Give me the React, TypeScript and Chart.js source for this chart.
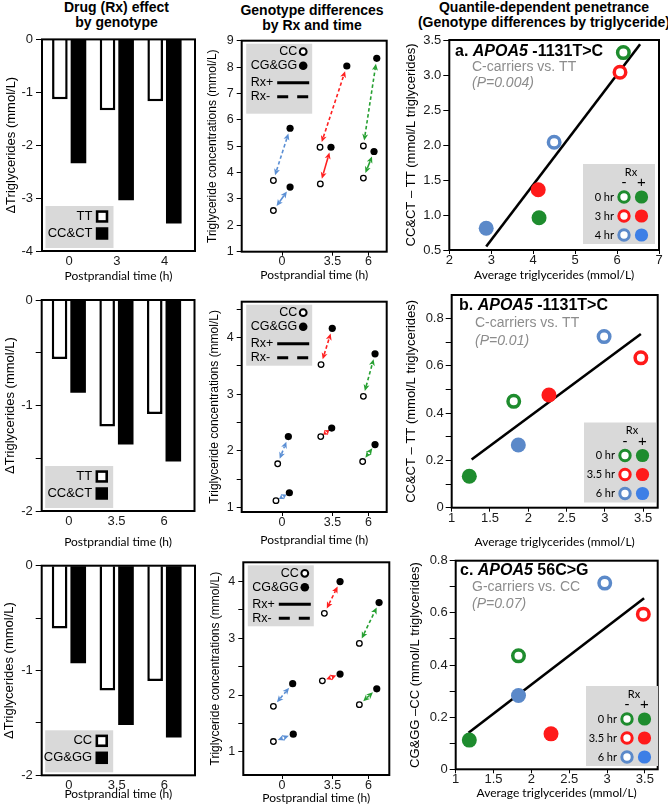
import React, { useEffect, useRef } from 'react';
import { Chart, registerables } from 'chart.js';

Chart.register(...registerables);

const PAGE_W = 668;
const PAGE_H = 807;
const HELV = '"Liberation Sans", Arial, Helvetica, sans-serif';
const SOFT = 'Lato, "Open Sans", "DejaVu Sans", sans-serif';
Chart.defaults.font.family = HELV;

const LEGEND_BG = '#d9d9d9';
const PEN_COLORS = ['#1e8c2e', '#ff1a1a', '#5b89c9'];
const PEN_LEGEND_FILLED = ['#1e8c2e', '#ff1a1a', '#3d7fe6'];
const ARROW_COLORS = ['#5b8fd4', '#ff2020', '#27a032'];

// ---------- headers ----------
const headerDrug = ['Drug (Rx) effect', 'by genotype'];
const headerGeno = ['Genotype differences', 'by Rx and time'];
const headerPen = ['Quantile-dependent penetrance', '(Genotype differences by triglyceride)'];

// ---------- column 1: drug effect bars ----------
const barPositions = [0, 1, 2];
const drugTimeLabelsA = ['0', '3', '4'];
const drugTimeLabelsBC = ['0', '3.5', '6'];
const drugA_TT = [-1.13, -1.34, -1.17];
const drugA_CCCT = [-2.34, -3.04, -3.48];
const drugB_TT = [-0.56, -1.2, -1.08];
const drugB_CCCT = [-0.88, -1.37, -1.53];
const drugC_CC = [-0.6, -1.19, -1.1];
const drugC_CGGG = [-0.93, -1.52, -1.64];
const drugLegendA = ['TT', 'CC&CT'];
const drugLegendB = ['TT', 'CC&CT'];
const drugLegendC = ['CC', 'CG&GG'];
const drugYTicksA = [0, -1, -2, -3, -4];
const drugYLabelsA = [0, -1, -2, -3, -4];
const drugYTicksBC = [0, -0.5, -1, -1.5, -2];
const drugYLabelsBC = [0, -1, -2];

// ---------- column 2: genotype differences ----------
const genoTimeTicks = [0, 3.5, 6];
const genoLegend = ['CC', 'CG&GG'];
const rxLegend = ['Rx+', 'Rx-'];
const genoA_ccMinusX = [-0.6, 2.64, 5.65];
const genoA_ccMinusY = [3.7, 4.96, 5.01];
const genoA_cgMinusX = [0.56, 4.5, 6.58];
const genoA_cgMinusY = [5.68, 8.04, 8.33];
const genoA_ccPlusX = [-0.6, 2.66, 5.65];
const genoA_ccPlusY = [2.56, 3.57, 3.79];
const genoA_cgPlusX = [0.56, 3.4, 6.39];
const genoA_cgPlusY = [3.45, 4.96, 4.8];

const genoB_ccMinusX = [-0.3, 2.71, 5.65];
const genoB_ccMinusY = [1.77, 3.52, 2.96];
const genoB_cgMinusX = [0.44, 3.49, 6.46];
const genoB_cgMinusY = [2.25, 4.16, 3.71];
const genoB_ccPlusX = [-0.42, 2.69, 5.6];
const genoB_ccPlusY = [1.12, 2.25, 1.81];
const genoB_cgPlusX = [0.51, 3.45, 6.46];
const genoB_cgPlusY = [1.26, 2.4, 2.11];

const genoC_ccMinusX = [-0.6, 2.94, 5.37];
const genoC_ccMinusY = [1.8, 3.44, 2.91];
const genoC_cgMinusX = [0.74, 4.03, 6.74];
const genoC_cgMinusY = [2.2, 4.0, 3.63];
const genoC_ccPlusX = [-0.6, 2.8, 5.37];
const genoC_ccPlusY = [1.18, 2.25, 1.83];
const genoC_cgPlusX = [0.78, 4.03, 6.58];
const genoC_cgPlusY = [1.31, 2.37, 2.11];

const genoYTicksA = [1, 2, 3, 4, 5, 6, 7, 8, 9];
const genoYLabelsA = [1, 2, 3, 4, 5, 6, 7, 8, 9];
const genoYTicksB = [1, 1.5, 2, 2.5, 3, 3.5, 4, 4.5];
const genoYTicksC = [1, 1.5, 2, 2.5, 3, 3.5, 4];
const genoYLabelsBC = [1, 2, 3, 4];

// ---------- column 3: quantile-dependent penetrance ----------
const penTimesA = ['0 hr', '3 hr', '4 hr'];
const penTimesBC = ['0 hr', '3.5 hr', '6 hr'];
const penA_minusX = [6.15, 6.07, 4.5];
const penA_minusY = [3.32, 3.04, 2.04];
const penA_plusX = [4.14, 4.12, 2.88];
const penA_plusY = [0.96, 1.36, 0.81];
const penA_fitX = [2.88, 6.55];
const penA_fitY = [0.55, 3.44];

const penB_minusX = [1.81, 3.47, 2.99];
const penB_minusY = [0.45, 0.634, 0.724];
const penB_plusX = [1.23, 2.27, 1.87];
const penB_plusY = [0.133, 0.477, 0.265];
const penB_fitX = [1.26, 3.47];
const penB_fitY = [0.204, 0.735];

const penC_minusX = [1.83, 3.48, 2.97];
const penC_minusY = [0.435, 0.595, 0.714];
const penC_plusX = [1.18, 2.26, 1.83];
const penC_plusY = [0.112, 0.136, 0.283];
const penC_fitX = [1.17, 3.49];
const penC_fitY = [0.14, 0.656];

const penXTicksA = [2, 3, 4, 5, 6, 7];
const penYTicksA = [0.5, 1, 1.5, 2, 2.5, 3, 3.5];
const penXTicksBC = [1, 1.5, 2, 2.5, 3, 3.5];
const penYTicksBC = [0, 0.1, 0.2, 0.3, 0.4, 0.5, 0.6, 0.7, 0.8];
const penYLabelsBC = [0, 0.2, 0.4, 0.6, 0.8];

const penTitleA = ['a. ', 'APOA5', ' -1131T>C'];
const penTitleB = ['b. ', 'APOA5', ' -1131T>C'];
const penTitleC = ['c. ', 'APOA5', ' 56C>G'];
const penSubA = ['C-carriers vs. TT', '(P=0.004)'];
const penSubB = ['C-carriers vs. TT', '(P=0.01)'];
const penSubC = ['G-carriers vs. CC', '(P=0.07)'];

// ---------- geometry ----------
type Geo = { L: number; T: number; R: number; B: number; yTitleX: number; xTitleY: number };
const geoDrugA: Geo = { L: 42, T: 39.4, R: 195, B: 251, yTitleX: 11.7, xTitleY: 276 };
const geoDrugB: Geo = { L: 41.7, T: 300, R: 194.5, B: 511, yTitleX: 10, xTitleY: 541.7 };
const geoDrugC: Geo = { L: 41.7, T: 565.7, R: 195, B: 775.3, yTitleX: 9, xTitleY: 794.3 };
const geoGenoA: Geo = { L: 241.7, T: 40.7, R: 386.7, B: 251.7, yTitleX: 213, xTitleY: 275 };
const geoGenoB: Geo = { L: 241.7, T: 301.7, R: 386.7, B: 512, yTitleX: 215, xTitleY: 540 };
const geoGenoC: Geo = { L: 243.3, T: 562.3, R: 389.3, B: 775, yTitleX: 216, xTitleY: 798 };
const geoPenA: Geo = { L: 449.3, T: 40, R: 659, B: 250, yTitleX: 411.7, xTitleY: 275 };
const geoPenB: Geo = { L: 451.7, T: 295, R: 657.7, B: 507.7, yTitleX: 411.7, xTitleY: 541.7 };
const geoPenC: Geo = { L: 455.7, T: 560.7, R: 657.7, B: 769.3, yTitleX: 415, xTitleY: 793.3 };

function layoutFor(g: Geo, yTitleSize: number, xTitleSize: number) {
  const yLeft = g.yTitleX - (yTitleSize * 1.2) / 2;
  const yW = g.L - yLeft;
  const xH = g.xTitleY + (xTitleSize * 1.2) / 2 - g.B;
  return {
    padding: { left: yLeft, top: g.T, right: PAGE_W - g.R, bottom: PAGE_H - g.B - xH },
    yW,
    xH,
  };
}

function makeAxis(o: {
  horizontal: boolean;
  min: number;
  max: number;
  ticks: number[];
  label: (v: number) => string;
  title: string;
  titleFont: any;
  tickFont: any;
  size: number;
  tickLength: number;
  tickPad: number;
  tickColor?: string;
}) {
  return {
    type: 'linear',
    position: o.horizontal ? 'bottom' : 'left',
    min: o.min,
    max: o.max,
    offset: false,
    afterBuildTicks: (s: any) => {
      s.ticks = o.ticks.map((v) => ({ value: v }));
    },
    afterFit: (s: any) => {
      if (o.horizontal) {
        s.height = o.size;
        s.paddingLeft = 0;
        s.paddingRight = 0;
      } else {
        s.width = o.size;
        s.paddingTop = 0;
        s.paddingBottom = 0;
      }
    },
    grid: {
      display: true,
      offset: false,
      drawOnChartArea: false,
      drawTicks: true,
      tickLength: o.tickLength,
      tickColor: o.tickColor ?? '#000',
      tickWidth: 1,
      color: '#000',
    },
    border: { display: false },
    ticks: {
      autoSkip: false,
      maxRotation: 0,
      minRotation: 0,
      padding: o.tickPad,
      color: '#1a1a1a',
      font: o.tickFont,
      callback: (v: any) => o.label(Number(v)),
    },
    title: { display: true, text: o.title, color: '#000', font: o.titleFont, padding: 0 },
  };
}

function baseOptions(padding: any) {
  return {
    animation: false,
    responsive: false,
    maintainAspectRatio: false,
    devicePixelRatio: 1,
    events: [],
    layout: { padding, autoPadding: false },
    plugins: { legend: { display: false }, tooltip: { enabled: false }, title: { display: false } },
  };
}

const framePlugin = {
  id: 'frame',
  afterDatasetsDraw(chart: any) {
    const { ctx, chartArea: a } = chart;
    ctx.save();
    ctx.strokeStyle = '#000';
    ctx.lineWidth = 2;
    ctx.strokeRect(a.left, a.top, a.right - a.left, a.bottom - a.top);
    ctx.restore();
  },
};

const includesNum = (arr: number[], v: number) => arr.some((a) => Math.abs(a - v) < 1e-9);

// ---------- column 1 config ----------
function drugLegendPlugin(labels: string[]) {
  return {
    id: 'drugLegend',
    afterDraw(chart: any) {
      const { ctx, chartArea: a } = chart;
      const bx = a.left + 3.5;
      const by = a.bottom - 45;
      ctx.save();
      ctx.fillStyle = LEGEND_BG;
      ctx.fillRect(bx, by, 68, 42);
      ctx.font = `13px ${HELV}`;
      ctx.textAlign = 'right';
      ctx.textBaseline = 'middle';
      ctx.fillStyle = '#000';
      const rows = [by + 10.5, by + 27.5];
      labels.forEach((t, i) => ctx.fillText(t, bx + 47, rows[i]));
      const s = 12.5;
      const sx = bx + 50.3;
      ctx.fillStyle = '#fff';
      ctx.fillRect(sx, rows[0] - s / 2, s, s);
      ctx.lineWidth = 2.6;
      ctx.strokeStyle = '#000';
      ctx.strokeRect(sx + 1.3, rows[0] - s / 2 + 1.3, s - 2.6, s - 2.6);
      ctx.fillStyle = '#000';
      ctx.fillRect(sx, rows[1] - s / 2, s, s);
      ctx.restore();
    },
  };
}

function drugConfig(
  geo: Geo,
  whiteVals: number[],
  blackVals: number[],
  timeLabels: string[],
  yTicks: number[],
  yLabels: number[],
  yMin: number,
  legend: string[],
) {
  const lay = layoutFor(geo, 13, 12);
  const toPts = (vals: number[]) => barPositions.map((p, i) => ({ x: p, y: vals[i] }));
  return {
    type: 'bar',
    data: {
      datasets: [
        {
          label: legend[0],
          data: toPts(whiteVals),
          backgroundColor: '#fff',
          borderColor: '#000',
          borderWidth: 2.5,
          borderSkipped: 'start',
          categoryPercentage: 0.78,
          barPercentage: 0.84,
        },
        {
          label: legend[1],
          data: toPts(blackVals),
          backgroundColor: '#000',
          borderWidth: 0,
          categoryPercentage: 0.78,
          barPercentage: 0.84,
        },
      ],
    },
    options: {
      ...baseOptions(lay.padding),
      scales: {
        x: makeAxis({
          horizontal: true,
          min: -0.57,
          max: 2.64,
          ticks: barPositions,
          label: (v) => timeLabels[Math.round(v)] ?? '',
          title: 'Postprandial time (h)',
          titleFont: { family: SOFT, size: 12 },
          tickFont: { family: HELV, size: 13, lineHeight: 1 },
          size: lay.xH,
          tickLength: 4,
          tickPad: 0,
          tickColor: 'rgba(0,0,0,0)',
        }),
        y: makeAxis({
          horizontal: false,
          min: yMin,
          max: 0,
          ticks: yTicks,
          label: (v) => (includesNum(yLabels, v) ? String(v) : ''),
          title: '\u0394Triglycerides (mmol/L)',
          titleFont: { family: HELV, size: 13 },
          tickFont: { family: HELV, size: 13 },
          size: lay.yW,
          tickLength: 6,
          tickPad: 3,
        }),
      },
    },
    plugins: [framePlugin, drugLegendPlugin(legend)],
  };
}

// ---------- column 2 config ----------
function drawArrow(ctx: CanvasRenderingContext2D, x1: number, y1: number, x2: number, y2: number, color: string, dashed: boolean) {
  const dx = x2 - x1;
  const dy = y2 - y1;
  const len = Math.hypot(dx, dy);
  if (len < 1) return;
  const ux = dx / len;
  const uy = dy / len;
  const px = -uy;
  const py = ux;
  const gap = Math.min(5.5, len * 0.22);
  const avail = len - 2 * gap;
  const head = Math.min(6.5, Math.max(avail * 0.55, 3.5));
  const hw = 3;
  const t1x = x1 + ux * gap;
  const t1y = y1 + uy * gap;
  const t2x = x2 - ux * gap;
  const t2y = y2 - uy * gap;
  ctx.save();
  ctx.strokeStyle = color;
  ctx.fillStyle = color;
  ctx.lineWidth = 1.6;
  if (avail > 2 * head) {
    ctx.setLineDash(dashed ? [3.5, 2.5] : []);
    ctx.beginPath();
    ctx.moveTo(t1x + ux * head * 0.8, t1y + uy * head * 0.8);
    ctx.lineTo(t2x - ux * head * 0.8, t2y - uy * head * 0.8);
    ctx.stroke();
  }
  ctx.setLineDash([]);
  const tri = (tx: number, ty: number, ddx: number, ddy: number) => {
    ctx.beginPath();
    ctx.moveTo(tx, ty);
    ctx.lineTo(tx + ddx * head + px * hw, ty + ddy * head + py * hw);
    ctx.lineTo(tx + ddx * head * 0.75, ty + ddy * head * 0.75);
    ctx.lineTo(tx + ddx * head - px * hw, ty + ddy * head - py * hw);
    ctx.closePath();
    ctx.fill();
  };
  tri(t1x, t1y, ux, uy);
  tri(t2x, t2y, -ux, -uy);
  ctx.restore();
}

type GenoSet = {
  ccMinusX: number[]; ccMinusY: number[]; cgMinusX: number[]; cgMinusY: number[];
  ccPlusX: number[]; ccPlusY: number[]; cgPlusX: number[]; cgPlusY: number[];
};

function genoPlugin(d: GenoSet, legendH: number) {
  return {
    id: 'genoExtras',
    beforeDatasetsDraw(chart: any) {
      const { ctx, scales } = chart;
      const X = (v: number) => scales.x.getPixelForValue(v);
      const Y = (v: number) => scales.y.getPixelForValue(v);
      for (let i = 0; i < d.ccMinusX.length; i++) {
        drawArrow(ctx, X(d.ccMinusX[i]), Y(d.ccMinusY[i]), X(d.cgMinusX[i]), Y(d.cgMinusY[i]), ARROW_COLORS[i], true);
        drawArrow(ctx, X(d.ccPlusX[i]), Y(d.ccPlusY[i]), X(d.cgPlusX[i]), Y(d.cgPlusY[i]), ARROW_COLORS[i], false);
      }
    },
    afterDraw(chart: any) {
      const { ctx, chartArea: a } = chart;
      const bx = a.left + 4.5;
      const by = a.top + 3;
      ctx.save();
      ctx.fillStyle = LEGEND_BG;
      ctx.fillRect(bx, by, 66, legendH);
      ctx.fillStyle = '#000';
      ctx.font = `12.5px ${HELV}`;
      ctx.textBaseline = 'middle';
      ctx.textAlign = 'right';
      const rows = [by + 8, by + 22, by + 39, by + 53];
      ctx.fillText(genoLegend[0], bx + 51, rows[0]);
      ctx.fillText(genoLegend[1], bx + 51, rows[1]);
      ctx.beginPath();
      ctx.arc(bx + 57, rows[0], 3.4, 0, Math.PI * 2);
      ctx.fillStyle = '#fff';
      ctx.fill();
      ctx.lineWidth = 2;
      ctx.strokeStyle = '#000';
      ctx.stroke();
      ctx.beginPath();
      ctx.arc(bx + 57, rows[1], 4.3, 0, Math.PI * 2);
      ctx.fillStyle = '#000';
      ctx.fill();
      ctx.textAlign = 'left';
      ctx.fillText(rxLegend[0], bx + 4.5, rows[2]);
      ctx.fillText(rxLegend[1], bx + 4.5, rows[3]);
      ctx.lineWidth = 3;
      ctx.beginPath();
      ctx.moveTo(bx + 31, rows[2]);
      ctx.lineTo(bx + 63, rows[2]);
      ctx.stroke();
      ctx.setLineDash([11, 9]);
      ctx.beginPath();
      ctx.moveTo(bx + 31, rows[3]);
      ctx.lineTo(bx + 63, rows[3]);
      ctx.stroke();
      ctx.restore();
    },
  };
}

function genoConfig(geo: Geo, d: GenoSet, xMin: number, xMax: number, yMin: number, yMax: number, yTicks: number[], yLabels: number[], legendH: number) {
  const lay = layoutFor(geo, 12, 12);
  const pts = (xs: number[], ys: number[]) => xs.map((x, i) => ({ x, y: ys[i] }));
  return {
    type: 'scatter',
    data: {
      datasets: [
        {
          label: genoLegend[0],
          data: [...pts(d.ccMinusX, d.ccMinusY), ...pts(d.ccPlusX, d.ccPlusY)],
          pointRadius: 2.8,
          pointBorderWidth: 1.3,
          pointBorderColor: '#000',
          pointBackgroundColor: '#fff',
        },
        {
          label: genoLegend[1],
          data: [...pts(d.cgMinusX, d.cgMinusY), ...pts(d.cgPlusX, d.cgPlusY)],
          pointRadius: 3.6,
          pointBorderWidth: 0,
          pointBackgroundColor: '#000',
        },
      ],
    },
    options: {
      ...baseOptions(lay.padding),
      scales: {
        x: makeAxis({
          horizontal: true,
          min: xMin,
          max: xMax,
          ticks: genoTimeTicks,
          label: (v) => String(v),
          title: 'Postprandial time (h)',
          titleFont: { family: SOFT, size: 12 },
          tickFont: { family: HELV, size: 12.5, lineHeight: 1 },
          size: lay.xH,
          tickLength: 4,
          tickPad: 0,
        }),
        y: makeAxis({
          horizontal: false,
          min: yMin,
          max: yMax,
          ticks: yTicks,
          label: (v) => (includesNum(yLabels, v) ? String(v) : ''),
          title: 'Triglyceride concentrations (mmol/L)',
          titleFont: { family: HELV, size: 12 },
          tickFont: { family: HELV, size: 12.5 },
          size: lay.yW,
          tickLength: 5,
          tickPad: 3,
        }),
      },
    },
    plugins: [genoPlugin(d, legendH), framePlugin],
  };
}

// ---------- column 3 config ----------
type PenSet = {
  minusX: number[]; minusY: number[]; plusX: number[]; plusY: number[]; fitX: number[]; fitY: number[];
  times: string[]; title: string[]; sub: string[];
};

function penPlugin(d: PenSet, pos: { tx: number; ty: number; sx: number; sy: number; py: number; lx: number; ly: number }) {
  return {
    id: 'penExtras',
    afterDraw(chart: any) {
      const ctx = chart.ctx as CanvasRenderingContext2D;
      ctx.save();
      ctx.textBaseline = 'middle';
      ctx.textAlign = 'left';
      ctx.fillStyle = '#000';
      let x = pos.tx;
      d.title.forEach((part, i) => {
        ctx.font = i === 1 ? `italic bold 16px ${HELV}` : `bold 16px ${HELV}`;
        ctx.fillText(part, x, pos.ty);
        x += ctx.measureText(part).width;
      });
      ctx.fillStyle = '#8c8c8c';
      ctx.font = `14px ${HELV}`;
      ctx.fillText(d.sub[0], pos.sx, pos.sy);
      ctx.font = `italic 14px ${HELV}`;
      ctx.fillText(d.sub[1], pos.sx, pos.py);

      // legend
      const bx = pos.lx;
      const by = pos.ly;
      ctx.fillStyle = LEGEND_BG;
      ctx.fillRect(bx, by, 72, 80);
      ctx.fillStyle = '#000';
      ctx.textAlign = 'center';
      ctx.font = `11px ${SOFT}`;
      ctx.fillText('Rx', bx + 48, by + 8);
      ctx.font = `15px ${HELV}`;
      ctx.fillText('-', bx + 41, by + 19);
      ctx.fillText('+', bx + 58.5, by + 19);
      d.times.forEach((t, i) => {
        const yy = by + 33 + i * 19;
        ctx.textAlign = 'right';
        ctx.fillStyle = '#000';
        ctx.font = `11px ${SOFT}`;
        ctx.fillText(t, bx + 31, yy);
        ctx.beginPath();
        ctx.arc(bx + 41, yy, 5.2, 0, Math.PI * 2);
        ctx.fillStyle = '#fff';
        ctx.fill();
        ctx.lineWidth = 3;
        ctx.strokeStyle = PEN_COLORS[i];
        ctx.stroke();
        ctx.beginPath();
        ctx.arc(bx + 58.5, yy, 6.6, 0, Math.PI * 2);
        ctx.fillStyle = PEN_LEGEND_FILLED[i];
        ctx.fill();
      });
      ctx.restore();
    },
  };
}

function penConfig(
  geo: Geo,
  d: PenSet,
  xMin: number,
  xMax: number,
  yMin: number,
  yMax: number,
  xTicks: number[],
  yTicks: number[],
  yLabel: (v: number) => string,
  yTitle: string,
  pos: { tx: number; ty: number; sx: number; sy: number; py: number; lx: number; ly: number },
) {
  const lay = layoutFor(geo, 13, 12);
  const pts = (xs: number[], ys: number[]) => xs.map((x, i) => ({ x, y: ys[i] }));
  return {
    type: 'scatter',
    data: {
      datasets: [
        {
          label: 'fit',
          data: pts(d.fitX, d.fitY),
          showLine: true,
          borderColor: '#000',
          borderWidth: 2.6,
          pointRadius: 0,
          order: 3,
        },
        {
          label: 'Rx-',
          data: pts(d.minusX, d.minusY),
          pointRadius: 5.75,
          pointBorderWidth: 3.5,
          pointBorderColor: PEN_COLORS,
          pointBackgroundColor: '#fff',
          order: 2,
        },
        {
          label: 'Rx+',
          data: pts(d.plusX, d.plusY),
          pointRadius: 7.5,
          pointBorderWidth: 0,
          pointBackgroundColor: PEN_COLORS,
          order: 1,
        },
      ],
    },
    options: {
      ...baseOptions(lay.padding),
      scales: {
        x: makeAxis({
          horizontal: true,
          min: xMin,
          max: xMax,
          ticks: xTicks,
          label: (v) => String(v),
          title: 'Average triglycerides (mmol/L)',
          titleFont: { family: SOFT, size: 12 },
          tickFont: { family: HELV, size: 13, lineHeight: 1 },
          size: lay.xH,
          tickLength: 4,
          tickPad: 0,
        }),
        y: makeAxis({
          horizontal: false,
          min: yMin,
          max: yMax,
          ticks: yTicks,
          label: yLabel,
          title: yTitle,
          titleFont: { family: HELV, size: 13 },
          tickFont: { family: HELV, size: 13 },
          size: lay.yW,
          tickLength: 6,
          tickPad: 2,
        }),
      },
    },
    plugins: [framePlugin, penPlugin(d, pos)],
  };
}

// ---------- panel factories ----------
const genoA: GenoSet = {
  ccMinusX: genoA_ccMinusX, ccMinusY: genoA_ccMinusY, cgMinusX: genoA_cgMinusX, cgMinusY: genoA_cgMinusY,
  ccPlusX: genoA_ccPlusX, ccPlusY: genoA_ccPlusY, cgPlusX: genoA_cgPlusX, cgPlusY: genoA_cgPlusY,
};
const genoB: GenoSet = {
  ccMinusX: genoB_ccMinusX, ccMinusY: genoB_ccMinusY, cgMinusX: genoB_cgMinusX, cgMinusY: genoB_cgMinusY,
  ccPlusX: genoB_ccPlusX, ccPlusY: genoB_ccPlusY, cgPlusX: genoB_cgPlusX, cgPlusY: genoB_cgPlusY,
};
const genoC: GenoSet = {
  ccMinusX: genoC_ccMinusX, ccMinusY: genoC_ccMinusY, cgMinusX: genoC_cgMinusX, cgMinusY: genoC_cgMinusY,
  ccPlusX: genoC_ccPlusX, ccPlusY: genoC_ccPlusY, cgPlusX: genoC_cgPlusX, cgPlusY: genoC_cgPlusY,
};
const penA: PenSet = { minusX: penA_minusX, minusY: penA_minusY, plusX: penA_plusX, plusY: penA_plusY, fitX: penA_fitX, fitY: penA_fitY, times: penTimesA, title: penTitleA, sub: penSubA };
const penB: PenSet = { minusX: penB_minusX, minusY: penB_minusY, plusX: penB_plusX, plusY: penB_plusY, fitX: penB_fitX, fitY: penB_fitY, times: penTimesBC, title: penTitleB, sub: penSubB };
const penC: PenSet = { minusX: penC_minusX, minusY: penC_minusY, plusX: penC_plusX, plusY: penC_plusY, fitX: penC_fitX, fitY: penC_fitY, times: penTimesBC, title: penTitleC, sub: penSubC };

const labelFixed1 = (v: number) => v.toFixed(1);
const labelBC = (v: number) => (includesNum(penYLabelsBC, v) ? String(v) : '');

const PANELS: Array<() => any> = [
  () => drugConfig(geoDrugA, drugA_TT, drugA_CCCT, drugTimeLabelsA, drugYTicksA, drugYLabelsA, -4, drugLegendA),
  () => drugConfig(geoDrugB, drugB_TT, drugB_CCCT, drugTimeLabelsBC, drugYTicksBC, drugYLabelsBC, -2, drugLegendB),
  () => drugConfig(geoDrugC, drugC_CC, drugC_CGGG, drugTimeLabelsBC, drugYTicksBC, drugYLabelsBC, -2, drugLegendC),
  () => genoConfig(geoGenoA, genoA, -2.8, 7.27, 1, 9, genoYTicksA, genoYLabelsA, 70),
  () => genoConfig(geoGenoB, genoB, -2.8, 7.27, 0.92, 4.63, genoYTicksB, genoYLabelsBC, 61),
  () => genoConfig(geoGenoC, genoC, -2.69, 7.45, 0.59, 4.34, genoYTicksC, genoYLabelsBC, 61),
  () =>
    penConfig(geoPenA, penA, 2, 7, 0.5, 3.5, penXTicksA, penYTicksA, labelFixed1, 'CC&CT \u2013 TT (mmol/L triglycerides)', {
      tx: 455, ty: 51.7, sx: 472, sy: 66.7, py: 83, lx: 583, ly: 164,
    }),
  () =>
    penConfig(geoPenB, penB, 1, 3.69, 0, 0.9, penXTicksBC, penYTicksBC, labelBC, 'CC&CT \u2013 TT (mmol/L triglycerides)', {
      tx: 459, ty: 306, sx: 475, sy: 323.3, py: 341, lx: 584, ly: 422.5,
    }),
  () =>
    penConfig(geoPenC, penC, 1, 3.67, 0, 0.8, penXTicksBC, penYTicksBC, labelBC, 'CG&GG \u2013CC (mmol/L triglycerides)', {
      tx: 460, ty: 570.7, sx: 472, sy: 587.3, py: 604, lx: 586, ly: 686,
    }),
];

const HEADERS = [
  { lines: headerDrug, cx: 116.5, top: 0 },
  { lines: headerGeno, cx: 312, top: 3 },
  { lines: headerPen, cx: 544, top: 0 },
];

function ChartLayer({ make }: { make: () => any }) {
  const ref = useRef<HTMLCanvasElement>(null);
  useEffect(() => {
    if (!ref.current) return;
    const chart = new Chart(ref.current, make());
    return () => chart.destroy();
  }, [make]);
  return (
    <canvas
      ref={ref}
      width={PAGE_W}
      height={PAGE_H}
      style={{ position: 'absolute', left: 0, top: 0, width: PAGE_W, height: PAGE_H }}
    />
  );
}

export default function App() {
  return (
    <div
      style={{
        position: 'fixed',
        left: 0,
        top: 0,
        width: PAGE_W,
        height: PAGE_H,
        background: '#fff',
        overflow: 'hidden',
      }}
    >
      {HEADERS.map((h, hi) =>
        h.lines.map((line, li) => (
          <div
            key={`${hi}-${li}`}
            style={{
              position: 'absolute',
              left: h.cx - 160,
              width: 320,
              top: h.top + li * 15,
              height: 15,
              lineHeight: '15px',
              textAlign: 'center',
              fontFamily: HELV,
              fontWeight: 'bold',
              fontSize: 14,
              color: '#000',
              whiteSpace: 'nowrap',
            }}
          >
            {line}
          </div>
        )),
      )}
      {PANELS.map((make, i) => (
        <ChartLayer key={i} make={make} />
      ))}
    </div>
  );
}
